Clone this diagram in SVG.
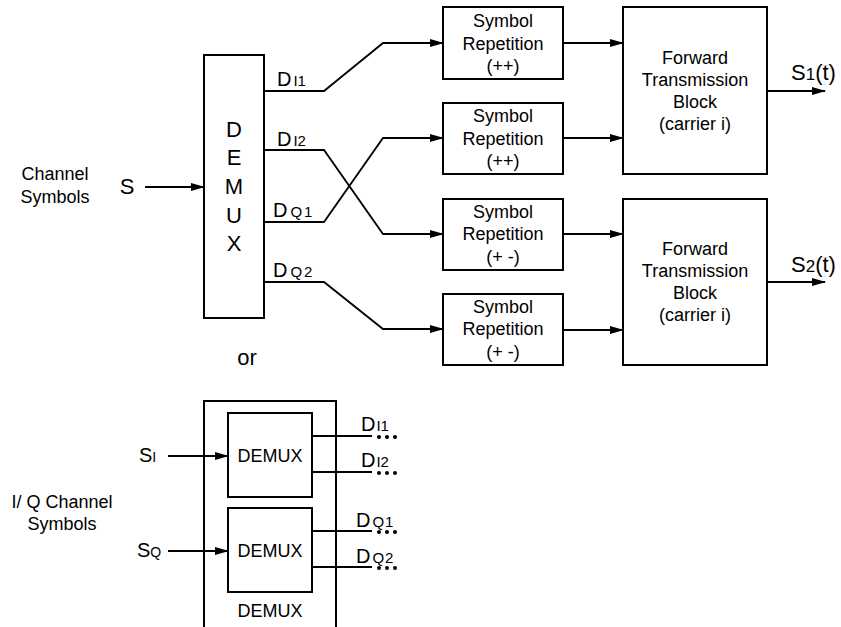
<svg xmlns="http://www.w3.org/2000/svg" width="841" height="627" viewBox="0 0 841 627">
<defs>
<style>
text{font-family:"Liberation Sans",Arial,sans-serif;fill:#000}
.box{fill:#fff;stroke:#000;stroke-width:2}
.ln{fill:none;stroke:#000;stroke-width:1.8}
.t18{font-size:18px;text-anchor:middle}
.big{font-size:22px;text-anchor:middle}
.d{font-size:20px}
.sub{font-size:15px}
</style>
<marker id="ah" markerWidth="14" markerHeight="10" refX="13" refY="5" orient="auto" markerUnits="userSpaceOnUse">
<path d="M0,1 L14,5 L0,9 z" fill="#000"/>
</marker>
</defs>
<rect width="841" height="627" fill="#fff"/>

<g id="labels">
<text class="t18" x="55" y="180">Channel</text>
<text class="t18" x="55" y="203">Symbols</text>
<text x="127" y="194" style="font-size:22px;text-anchor:middle">S</text>
<text class="big" x="247" y="365">or</text>
<text class="t18" x="62" y="508">I/ Q Channel</text>
<text class="t18" x="62" y="530">Symbols</text>
<text x="139" y="462" style="font-size:20px">S<tspan style="font-size:14px">I</tspan></text>
<text x="137" y="557" style="font-size:20px">S<tspan style="font-size:14px">Q</tspan></text>
</g>

<g id="demux">
<rect class="box" x="204" y="55" width="60" height="263"/>
<text class="big" x="234" y="137">D</text>
<text class="big" x="234" y="165">E</text>
<text class="big" x="234" y="194">M</text>
<text class="big" x="234" y="223">U</text>
<text class="big" x="234" y="251">X</text>
</g>

<g id="rep1">
<rect class="box" x="443" y="7" width="120" height="72"/>
<text class="t18" x="503" y="27">Symbol</text>
<text class="t18" x="503" y="50">Repetition</text>
<text class="t18" x="503" y="72">(++)</text>
</g>
<g id="rep2">
<rect class="box" x="443" y="103" width="120" height="71"/>
<text class="t18" x="503" y="122">Symbol</text>
<text class="t18" x="503" y="145">Repetition</text>
<text class="t18" x="503" y="167">(++)</text>
</g>
<g id="rep3">
<rect class="box" x="443" y="199" width="120" height="71"/>
<text class="t18" x="503" y="218">Symbol</text>
<text class="t18" x="503" y="240">Repetition</text>
<text class="t18" x="503" y="263">(+ -)</text>
</g>
<g id="rep4">
<rect class="box" x="443" y="294" width="120" height="71"/>
<text class="t18" x="503" y="313">Symbol</text>
<text class="t18" x="503" y="335">Repetition</text>
<text class="t18" x="503" y="358">(+ -)</text>
</g>

<g id="ftb1">
<rect class="box" x="623" y="7" width="144" height="167"/>
<text class="t18" x="695" y="64">Forward</text>
<text class="t18" x="695" y="86">Transmission</text>
<text class="t18" x="695" y="108">Block</text>
<text class="t18" x="695" y="130">(carrier i)</text>
</g>
<g id="ftb2">
<rect class="box" x="623" y="199" width="144" height="166"/>
<text class="t18" x="695" y="255">Forward</text>
<text class="t18" x="695" y="277">Transmission</text>
<text class="t18" x="695" y="299">Block</text>
<text class="t18" x="695" y="321">(carrier i)</text>
</g>

<g id="outs">
<text x="791" y="80" style="font-size:22px">S<tspan style="font-size:17px">1</tspan>(t)</text>
<text x="791" y="272" style="font-size:22px">S<tspan style="font-size:17px">2</tspan>(t)</text>
</g>

<g id="dlabels">
<text class="d" x="277" y="86">D<tspan class="sub" dx="2">I1</tspan></text>
<text class="d" x="277" y="146">D<tspan class="sub" dx="2">I2</tspan></text>
<text class="d" x="273" y="217">D<tspan class="sub" dx="3" letter-spacing="2">Q1</tspan></text>
<text class="d" x="273" y="277">D<tspan class="sub" dx="3" letter-spacing="2">Q2</tspan></text>
</g>

<g id="iqdemux">
<rect class="box" x="204" y="401" width="132" height="240"/>
<text class="t18" x="270" y="617">DEMUX</text>
</g>
<g id="demuxI">
<rect class="box" x="228" y="413" width="84" height="84"/>
<text class="t18" x="270" y="462">DEMUX</text>
</g>
<g id="demuxQ">
<rect class="box" x="228" y="508" width="84" height="84"/>
<text class="t18" x="270" y="557">DEMUX</text>
</g>
<g id="iqlabels">
<text class="d" x="361" y="431">D<tspan class="sub" dx="1">I1</tspan></text>
<text class="d" x="361" y="467">D<tspan class="sub" dx="1">I2</tspan></text>
<text class="d" x="356" y="527">D<tspan class="sub" dx="2" letter-spacing="1">Q1</tspan></text>
<text class="d" x="356" y="563">D<tspan class="sub" dx="2" letter-spacing="1">Q2</tspan></text>
<g fill="#000">
<circle cx="379" cy="437" r="2"/><circle cx="387" cy="437" r="2"/><circle cx="395" cy="437" r="2"/>
<circle cx="379" cy="473" r="2"/><circle cx="387" cy="473" r="2"/><circle cx="395" cy="473" r="2"/>
<circle cx="379" cy="532" r="2"/><circle cx="387" cy="532" r="2"/><circle cx="395" cy="532" r="2"/>
<circle cx="379" cy="568" r="2"/><circle cx="387" cy="568" r="2"/><circle cx="395" cy="568" r="2"/>
</g>
</g>

<g id="connectors">
<path class="ln" d="M145,187 H204" marker-end="url(#ah)"/>
<path class="ln" d="M264,91 H324 L383,43 H443" marker-end="url(#ah)"/>
<path class="ln" d="M264,150 H324 L383,234 H443" marker-end="url(#ah)"/>
<path class="ln" d="M264,222 H324 L383,138 H443" marker-end="url(#ah)"/>
<path class="ln" d="M264,282 H324 L383,329 H443" marker-end="url(#ah)"/>
<path class="ln" d="M563,43 H623" marker-end="url(#ah)"/>
<path class="ln" d="M563,138 H623" marker-end="url(#ah)"/>
<path class="ln" d="M563,234 H623" marker-end="url(#ah)"/>
<path class="ln" d="M563,330 H623" marker-end="url(#ah)"/>
<path class="ln" d="M767,91 H825" marker-end="url(#ah)"/>
<path class="ln" d="M767,282 H825" marker-end="url(#ah)"/>
<path class="ln" d="M168,456 H228" marker-end="url(#ah)"/>
<path class="ln" d="M168,551 H228" marker-end="url(#ah)"/>
<path class="ln" d="M312,436 H372"/>
<path class="ln" d="M312,472 H372"/>
<path class="ln" d="M312,531 H372"/>
<path class="ln" d="M312,567 H372"/>
</g>
</svg>
